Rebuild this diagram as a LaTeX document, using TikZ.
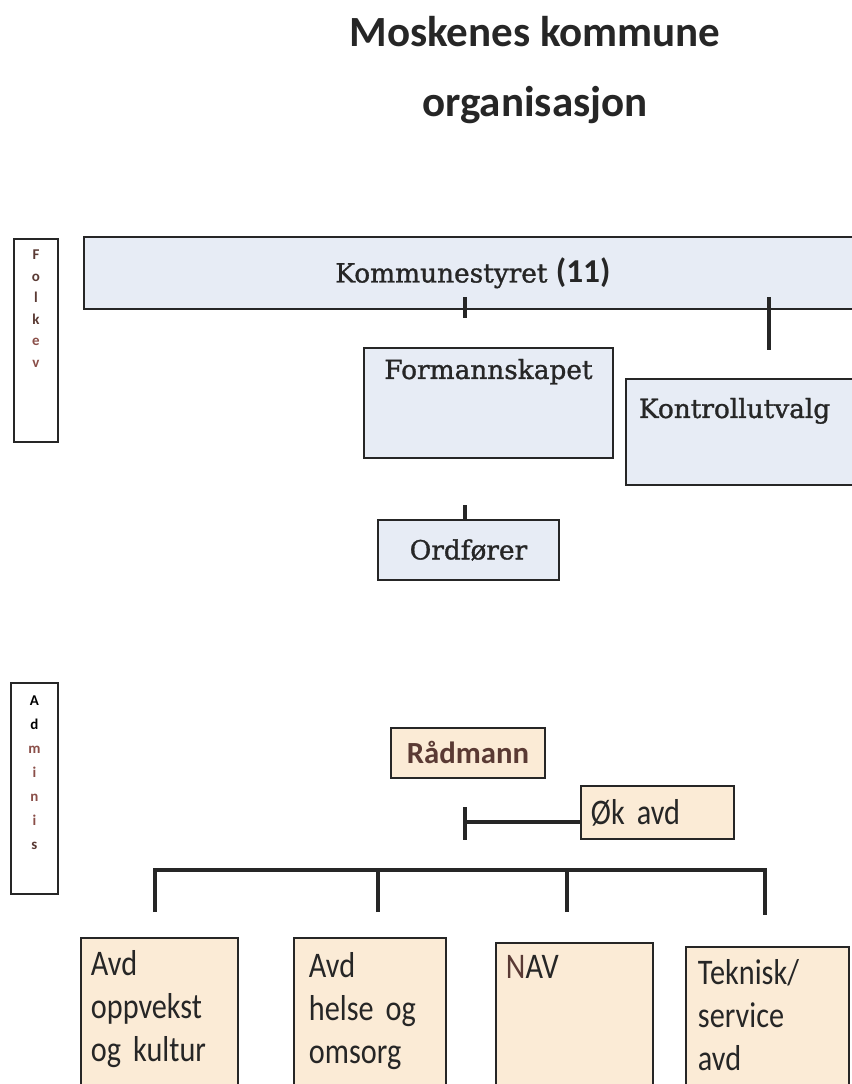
\documentclass[tikz,border=0pt]{standalone}
\usepackage{fontspec}
\setmainfont[FakeBold=1.2]{DejaVu Serif}
\newfontfamily\carlito{Carlito}
\newfontfamily\carlitonarrow[FakeStretch=0.84]{Carlito}
\usetikzlibrary{positioning}

\definecolor{folkfill}{HTML}{E7ECF5}
\definecolor{adminfill}{HTML}{FBEBD6}
\definecolor{brownink}{HTML}{5A3A34}
\definecolor{rustink}{HTML}{8A4E48}

\tikzset{
  folkbox/.style={draw=black!85, line width=1.1pt, fill=folkfill, inner sep=0pt,
    anchor=north west, font=\fontsize{15}{17}\selectfont, text=black!85},
  adminbox/.style={draw=black!85, line width=1.1pt, fill=adminfill, inner sep=0pt,
    anchor=north west, font=\carlitonarrow\fontsize{20.5}{24.4}\selectfont, text=black!85},
  avdbox/.style={adminbox, align=left, text depth=3.5cm},
  sidebar/.style={draw=black!85, line width=1.1pt, fill=white, inner sep=0pt,
    anchor=north west, align=center, font=\carlito\bfseries\fontsize{8.5}{12.2}\selectfont},
  conn/.style={line width=2.1pt, black!85},
}

\begin{document}
\begin{tikzpicture}[x=0.02cm, y=-0.02cm]
    \useasboundingbox (0,0) rectangle (851,1084);

    % Title
    \node (title) [font=\carlito\bfseries\fontsize{24.5}{30}\selectfont, text=black!85] at (535,32) {Moskenes kommune};
    \node (subtitle) [font=\carlito\bfseries\fontsize{24.5}{30}\selectfont, text=black!85] at (535,105) {organisasjon};

    % Side labels
    \node (folk) [sidebar, text width=0.88cm, text height=0.42cm, text depth=3.64cm, text=brownink] at (13,238)
        {F\\o\\l\\k\\{\color{rustink}e}\\{\color{rustink}v}};
    \node (admin) [sidebar, text width=0.94cm, text height=0.46cm, text depth=3.76cm,
        font=\carlito\bfseries\fontsize{8.5}{13.6}\selectfont] at (10,682)
        {A\\d\\{\color{rustink}m}\\{\color{rustink}i}\\{\color{rustink}n}\\{\color{rustink}i}\\{\color{brownink}s}};

    % Define nodes for the elected level (blue boxes)
    \node (kstyre) [folkbox, minimum width=15.56cm, minimum height=1.44cm] at (83,236)
        {Kommunestyret {\carlito\bfseries\fontsize{19}{20}\selectfont(11)}};
    \node (fskap) [folkbox, minimum width=4.98cm, text height=0.62cm, text depth=1.58cm] at (363,347) {Formannskapet};
    \node (kontroll) [folkbox, text width=4.4cm, align=left, inner xsep=0.26cm, text height=0.78cm, text depth=1.34cm] at (625,378) {Kontrollutvalg};
    \node (ordf) [folkbox, minimum width=3.62cm, minimum height=1.2cm] at (377,519) {Ordfører};

    % Define nodes for the administration (beige boxes)
    \node (radm) [adminbox, font=\carlito\bfseries\fontsize{17.5}{20}\selectfont, text=brownink,
        minimum width=3.08cm, minimum height=1cm] at (390,727) {Rådmann};
    \node (okavd) [adminbox, text width=2.66cm, align=left, inner xsep=0.2cm, minimum height=1.06cm] at (580,785) {Øk avd};
    \node (oppv) [avdbox, text width=2.74cm, inner xsep=0.2cm, text height=0.76cm] at (80,937) {Avd\\oppvekst\\og kultur};
    \node (helse) [avdbox, text width=2.44cm, inner xsep=0.3cm, text height=0.8cm] at (293,937) {Avd\\helse og\\omsorg};
    \node (nav) [avdbox, text width=2.74cm, inner xsep=0.2cm, text height=0.72cm] at (495,942) {{\color{brownink}N}AV};
    \node (tekn) [avdbox, text width=2.78cm, inner xsep=0.24cm, text height=0.76cm] at (685,946) {Teknisk/\\service\\avd};

    % Free ends of the connectors
    \coordinate (kt1) at (465,297);
    \coordinate (kt2) at (465,318);
    \coordinate (kv1) at (769,297);
    \coordinate (kv2) at (769,350);
    \coordinate (ot) at (465,505);
    \coordinate (rb) at (465,822);
    \coordinate (rt1) at (465,807);
    \coordinate (rt2) at (465,840);
    \coordinate (bus) at (0,870);
    \coordinate (d1) at (155,912);
    \coordinate (d2) at (378,912);
    \coordinate (d3) at (567,912);
    \coordinate (d4) at (765,915);

    % Draw the connector lines
    \draw[conn] (kt1) -- (kt2);
    \draw[conn] (kv1) -- (kv2);
    \draw[conn] (ot) -- (ot |- ordf.north);
    \draw[conn] (okavd.west |- rb) -- (rb);
    \draw[conn] (rt1) -- (rt2);
    \draw[conn] (d1) -- (d1 |- bus) -- (d4 |- bus) -- (d4);
    \foreach \d in {d2,d3}
        \draw[conn] (\d) -- (\d |- bus);

\end{tikzpicture}
\end{document}
